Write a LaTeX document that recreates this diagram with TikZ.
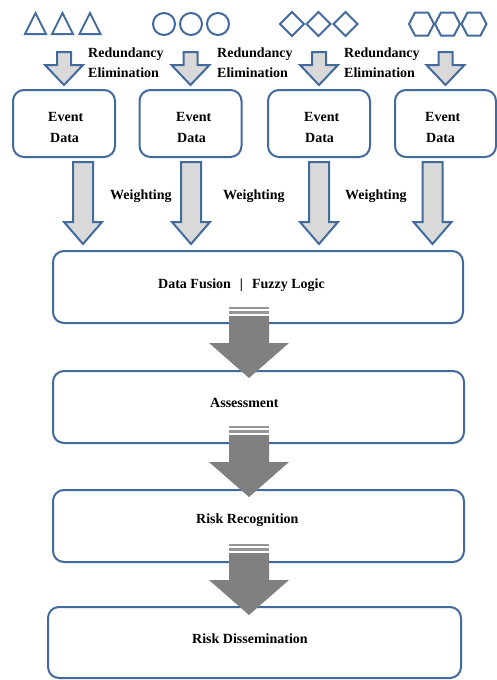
\documentclass[tikz,border=0pt]{standalone}
\usepackage{fontspec}
\setmainfont{Liberation Serif}
\definecolor{bl}{RGB}{66,106,156}
\definecolor{lg}{RGB}{217,217,217}
\definecolor{dg}{RGB}{128,128,128}
\definecolor{sg}{RGB}{150,150,150}
\newcommand\outarrow[6]{% cx, top, base, tip, shaft half, head half
  \draw[oarrow] (#1-#5,#2) -- (#1+#5,#2) -- (#1+#5,#3) -- (#1+#6,#3) -- (#1,#4) -- (#1-#6,#3) -- (#1-#5,#3) -- cycle;}
\newcommand\bigarr[1]{% top
  \fill[sg] (229,#1) rectangle (269,#1+2);
  \fill[sg] (229,#1+4) rectangle (269,#1+7);
  \fill[dg] (229,#1+9) -- (269,#1+9) -- (269,#1+36) -- (289,#1+36) -- (249,#1+71) -- (209,#1+36) -- (229,#1+36) -- cycle;}
\begin{document}
\begin{tikzpicture}[x=1pt,y=-1pt,
  shp/.style={draw=bl,line width=2,line join=miter},
  oarrow/.style={draw=bl,fill=lg,line width=2,line join=miter},
  rbox/.style={draw=bl,fill=white,line width=2,rounded corners=11,inner sep=0},
  lbl/.style={font=\fontsize{14}{18}\selectfont\bfseries,inner sep=0,anchor=base west}]
\useasboundingbox (0,0) rectangle (497,680);
% symbols
\foreach \c in {35.5,62.5,90} {\draw[shp] (\c-10.5,34) -- (\c+10.5,34) -- (\c,13) -- cycle;}
\foreach \c in {164,191,218} {\draw[shp] (\c,24) circle (11);}
\foreach \c in {292,318.5,345.5} {\draw[shp] (\c-12,24) -- (\c,12) -- (\c+12,24) -- (\c,36) -- cycle;}
\foreach \c in {421.5,447.5,474} {\draw[shp] (\c-12.5,24) -- (\c-6.5,12.5) -- (\c+6.5,12.5) -- (\c+12.5,24) -- (\c+6.5,35.5) -- (\c-6.5,35.5) -- cycle;}
% redundancy arrows
\foreach \c in {64,190.5,319,445.5} {\outarrow{\c}{52}{65}{85}{7}{19}}
\node[lbl] (r1a) at (88,57) {Redundancy};
\node[lbl] (r1b) at (88,77) {Elimination};
\node[lbl] (r2a) at (217,57) {Redundancy};
\node[lbl] (r2b) at (217,77) {Elimination};
\node[lbl] (r3a) at (344,57) {Redundancy};
\node[lbl] (r3b) at (344,77) {Elimination};
% event boxes
\node[rbox,minimum width=102,minimum height=67] (e1) at (64,123.5) {};
\node[rbox,minimum width=102,minimum height=67] (e2) at (190.5,123.5) {};
\node[rbox,minimum width=102,minimum height=67] (e3) at (319,123.5) {};
\node[rbox,minimum width=101,minimum height=67] (e4) at (445.5,123.5) {};
\node[lbl] (e1a) at (48,121) {Event};
\node[lbl] (e1b) at (50,142) {Data};
\node[lbl] (e2a) at (176,121) {Event};
\node[lbl] (e2b) at (177,142) {Data};
\node[lbl] (e3a) at (304,121) {Event};
\node[lbl] (e3b) at (305,142) {Data};
\node[lbl] (e4a) at (425,121) {Event};
\node[lbl] (e4b) at (426,142) {Data};
% weighting arrows
\foreach \c in {83,191,319,432.5} {\outarrow{\c}{162}{222}{244}{10}{19}}
\node[lbl] (w1) at (110,199) {Weighting};
\node[lbl] (w2) at (223,199) {Weighting};
\node[lbl] (w3) at (345,199) {Weighting};
% main boxes
\node[rbox,minimum width=410,minimum height=72] (fus) at (258,287) {};
\node[rbox,minimum width=411,minimum height=72] (ass) at (258.5,407) {};
\node[rbox,minimum width=411,minimum height=72] (rec) at (258.5,526) {};
\node[rbox,minimum width=413,minimum height=71] (dis) at (254.5,642.5) {};
\node[lbl] (tfus) at (158,288) {Data Fusion\hspace{9pt}|\hspace{9pt}Fuzzy Logic};
\node[lbl] (tass) at (210,407) {Assessment};
\node[lbl] (trec) at (196,523) {Risk Recognition};
\node[lbl] (tdis) at (192,643) {Risk Dissemination};
% big arrows
\bigarr{307}
\bigarr{426}
\bigarr{544}
\end{tikzpicture}
\end{document}
